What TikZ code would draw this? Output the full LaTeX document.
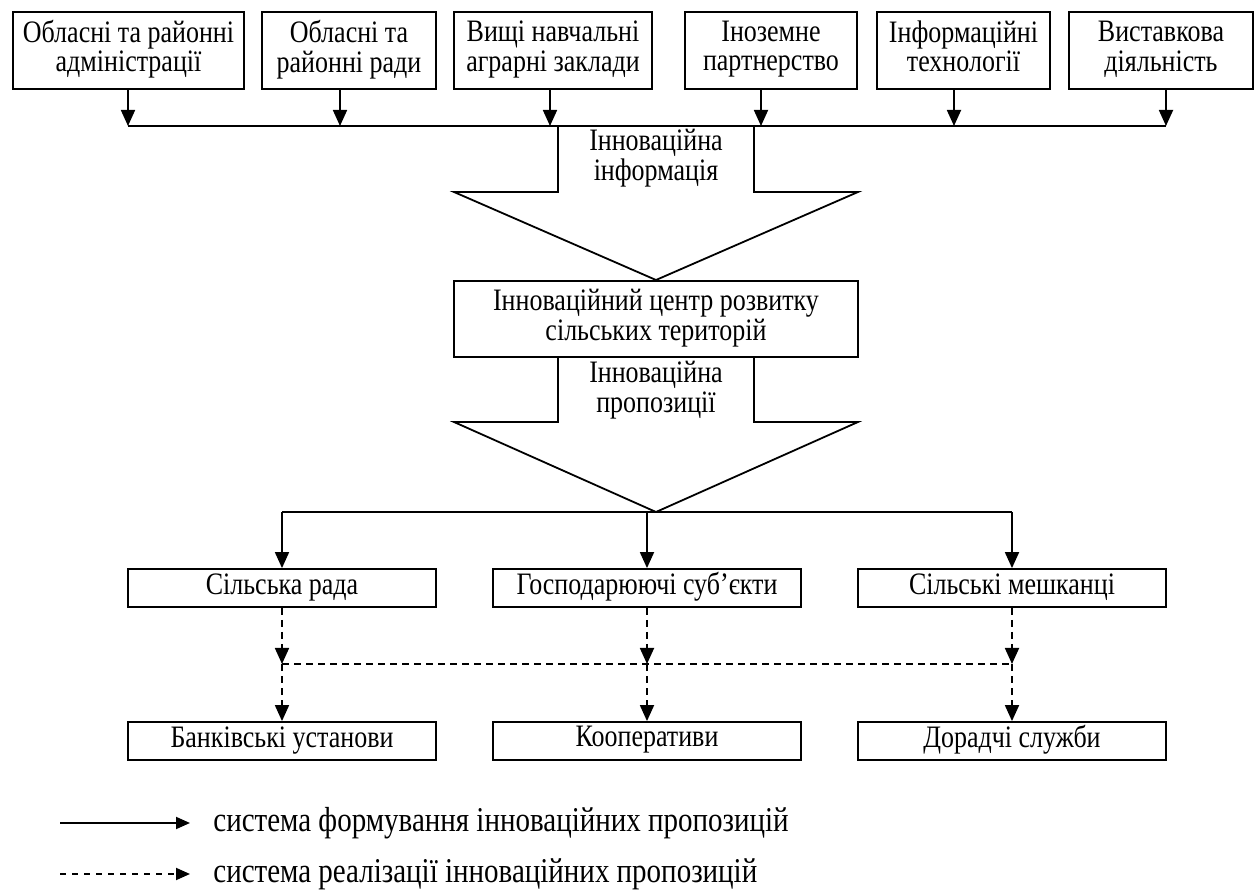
\documentclass[tikz,border=0pt]{standalone}
\usepackage{fontspec}
\usepackage{graphicx}
\setmainfont{Liberation Serif}
\usetikzlibrary{arrows.meta}
\newcommand{\vt}[1]{\scalebox{1}[1.2]{\begin{tabular}{@{}c@{}}#1\end{tabular}}}
\begin{document}
\begin{tikzpicture}[x=0.5pt,y=-0.5pt,
  box/.style={draw,line width=0.9pt,align=center,inner sep=0pt,font=\fontsize{13}{12}\selectfont},
  lbl/.style={align=center,inner sep=0pt,font=\fontsize{13}{12}\selectfont},
  leg/.style={anchor=west,inner sep=0pt,font=\fontsize{14.5}{16}\selectfont},
  ln/.style={line width=0.9pt},
  arr/.style={line width=0.9pt,-{Triangle[length=8pt,width=7pt]}},
  legarr/.style={line width=0.9pt,-{Triangle[length=7pt,width=6pt]}},
  dsh/.style={dash pattern=on 3.5pt off 2.5pt}]
\fill[white] (0,0) rectangle (1255,893);
\useasboundingbox (0,0) rectangle (1255,893);
% top row
\node[box,minimum width=115.5pt,minimum height=38.5pt] (a1) at (128.5,50.5) {\vt{Обласні та районні\\адміністрації}};
\node[box,minimum width=87pt,minimum height=38.5pt] (a2) at (349,50.5) {\vt{Обласні та\\районні ради}};
\node[box,minimum width=99pt,minimum height=38.5pt] (a3) at (553,50.5) {\vt{Вищі навчальні\\аграрні заклади}};
\node[box,minimum width=86pt,minimum height=38.5pt] (a4) at (771,50.5) {\vt{Іноземне\\партнерство}};
\node[box,minimum width=86.5pt,minimum height=38.5pt] (a5) at (963.5,50.5) {\vt{Інформаційні\\технології}};
\node[box,minimum width=92pt,minimum height=38.5pt] (a6) at (1161,50.5) {\vt{Виставкова\\діяльність}};
% bus
\coordinate (p1) at (128,126);
\coordinate (p2) at (340,126);
\coordinate (p3) at (550,126);
\coordinate (p4) at (761,126);
\coordinate (p5) at (954,126);
\coordinate (p6) at (1166,126);
\foreach \i in {1,...,6} \draw[arr] (a\i.south -| p\i) -- (p\i);
\draw[ln] (p1) -- (p6);
% big arrow 1
\draw[ln,line join=miter] (558,126) -- (558,192) -- (454,192) -- (656,280) -- (858,192) -- (754,192) -- (754,126);
\node[lbl] (i1) at (656,159) {\vt{Інноваційна\\інформація}};
% centre
\node[box,minimum width=202pt,minimum height=38pt] (c) at (656,319) {\vt{Інноваційний центр розвитку\\сільських територій}};
% big arrow 2
\draw[ln,line join=miter] (558,357) -- (558,422) -- (454,422) -- (656,512) -- (858,422) -- (754,422) -- (754,357);
\node[lbl] (i2) at (656,391) {\vt{Інноваційна\\пропозиції}};
% middle row
\node[box,minimum width=154pt,minimum height=19pt] (m1) at (282,588) {\vt{Сільська рада}};
\node[box,minimum width=154pt,minimum height=19pt] (m2) at (647,588) {\vt{Господарюючі суб’єкти}};
\node[box,minimum width=154pt,minimum height=19pt] (m3) at (1012,588) {\vt{Сільські мешканці}};
\coordinate (h1) at (282,512);
\coordinate (h3) at (1012,512);
\draw[ln] (h1) -- (h3);
\draw[arr] (h1) -- (m1.north);
\draw[arr] (m2.north |- h1) -- (m2.north);
\draw[arr] (h3) -- (m3.north);
% bottom row
\node[box,minimum width=154pt,minimum height=19pt] (b1) at (282,741) {\vt{Банківські установи}};
\node[box,minimum width=154pt,minimum height=19pt] (b2) at (647,741) {\vt{Кооперативи}};
\node[box,minimum width=154pt,minimum height=19pt] (b3) at (1012,741) {\vt{Дорадчі служби}};
\coordinate (d1) at (282,664);
\coordinate (d2) at (647,664);
\coordinate (d3) at (1012,664);
\draw[ln,dsh] (d1) -- (d3);
\foreach \i in {1,2,3} {
  \draw[arr,dsh] (m\i.south) -- (d\i);
  \draw[arr,dsh] (d\i) -- (b\i.north);
}
% legend
\coordinate (l1s) at (60,823);
\coordinate (l1e) at (190,823);
\coordinate (l2s) at (60,874);
\coordinate (l2e) at (190,874);
\draw[legarr] (l1s) -- (l1e);
\draw[legarr,dash pattern=on 3pt off 3pt] (l2s) -- (l2e);
\node[leg] (g1) at (213,823) {\scalebox{1}[1.2]{система формування інноваційних пропозицій}};
\node[leg] (g2) at (213,874) {\scalebox{1}[1.2]{система реалізації інноваційних пропозицій}};
\end{tikzpicture}
\end{document}
